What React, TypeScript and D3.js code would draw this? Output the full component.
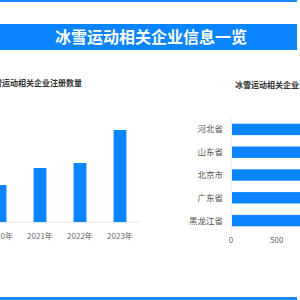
import React from "react";
import * as d3 from "d3";

const pageTitle = "冰雪运动相关企业信息一览";
const leftTitle = "冰雪运动相关企业注册数量";
const rightTitle = "冰雪运动相关企业省份分布";

const years = ["2020年", "2021年", "2022年", "2023年"];
const yearCounts = [1850, 2700, 2950, 4600];

const provinces = ["河北省", "山东省", "北京市", "广东省", "黑龙江省"];
const provinceCounts = [2100, 1850, 1650, 1400, 1200];
const provinceTicks = [0, 500, 1000, 1500, 2000];

const BLUE = "#0a84ff";
const LINE_BLUE = "#1a8cff";
const FONT = "'Noto Sans CJK SC', 'Noto Sans', sans-serif";

export default function App() {
  // left chart scales
  const xBand = d3.scaleBand<string>().domain(years).range([-20, 140]).paddingInner(0.68).paddingOuter(0.34);
  const yLin = d3.scaleLinear().domain([0, 5000]).range([222, 122]);

  // right chart scales
  const yBand = d3.scaleBand<string>().domain(provinces).range([118, 232]).paddingInner(0.5).paddingOuter(0.25);
  const xLin = d3.scaleLinear().domain([0, 2500]).range([231, 459.5]);

  return (
    <svg
      width={300}
      height={300}
      style={{ position: "fixed", left: 0, top: 0, background: "#fff" }}
      fontFamily={FONT}
    >
      <rect x={0} y={0} width={300} height={300} fill="#fff" />
      <rect x={0} y={0} width={297} height={2} fill={LINE_BLUE} />
      <rect x={0} y={24} width={297} height={26} fill={BLUE} />
      <text x={151} y={37} dy="0.36em" textAnchor="middle" fill="#fff" fontSize={16} fontWeight="bold">
        {pageTitle}
      </text>
      <rect x={0} y={297} width={297} height={3} fill={LINE_BLUE} />

      {/* left chart */}
      <text x={82} y={83} dy="0.36em" textAnchor="end" fill="#333" fontSize={8} fontWeight="bold">
        {leftTitle}
      </text>
      <line x1={-20} x2={140} y1={yLin(0)} y2={yLin(0)} stroke="#e8e8e8" strokeWidth={1} />
      {years.map((y, i) => (
        <rect
          key={y}
          x={xBand(y)!}
          y={yLin(yearCounts[i])}
          width={xBand.bandwidth()}
          height={yLin(0) - yLin(yearCounts[i])}
          fill={BLUE}
        />
      ))}
      {years.map((y) => (
        <text
          key={y}
          x={xBand(y)! + xBand.bandwidth() / 2}
          y={236}
          dy="0.36em"
          textAnchor="middle"
          fill="#666"
          fontSize={8}
        >
          {y}
        </text>
      ))}

      {/* right chart */}
      <text x={235} y={85} dy="0.36em" textAnchor="start" fill="#333" fontSize={8} fontWeight="bold">
        {rightTitle}
      </text>
      <line x1={xLin(0)} x2={xLin(0)} y1={118} y2={232} stroke="#e8e8e8" strokeWidth={1} />
      {provinces.map((p, i) => (
        <rect
          key={p}
          x={xLin(0) + 1}
          y={yBand(p)!}
          width={xLin(provinceCounts[i]) - xLin(0)}
          height={yBand.bandwidth()}
          fill={BLUE}
        />
      ))}
      {provinces.map((p) => (
        <text
          key={p}
          x={223}
          y={yBand(p)! + yBand.bandwidth() / 2}
          dy="0.36em"
          textAnchor="end"
          fill="#555"
          fontSize={8.5}
        >
          {p}
        </text>
      ))}
      {provinceTicks.map((t) => (
        <text key={t} x={xLin(t)} y={240} dy="0.36em" textAnchor="middle" fill="#666" fontSize={8}>
          {t}
        </text>
      ))}
    </svg>
  );
}
